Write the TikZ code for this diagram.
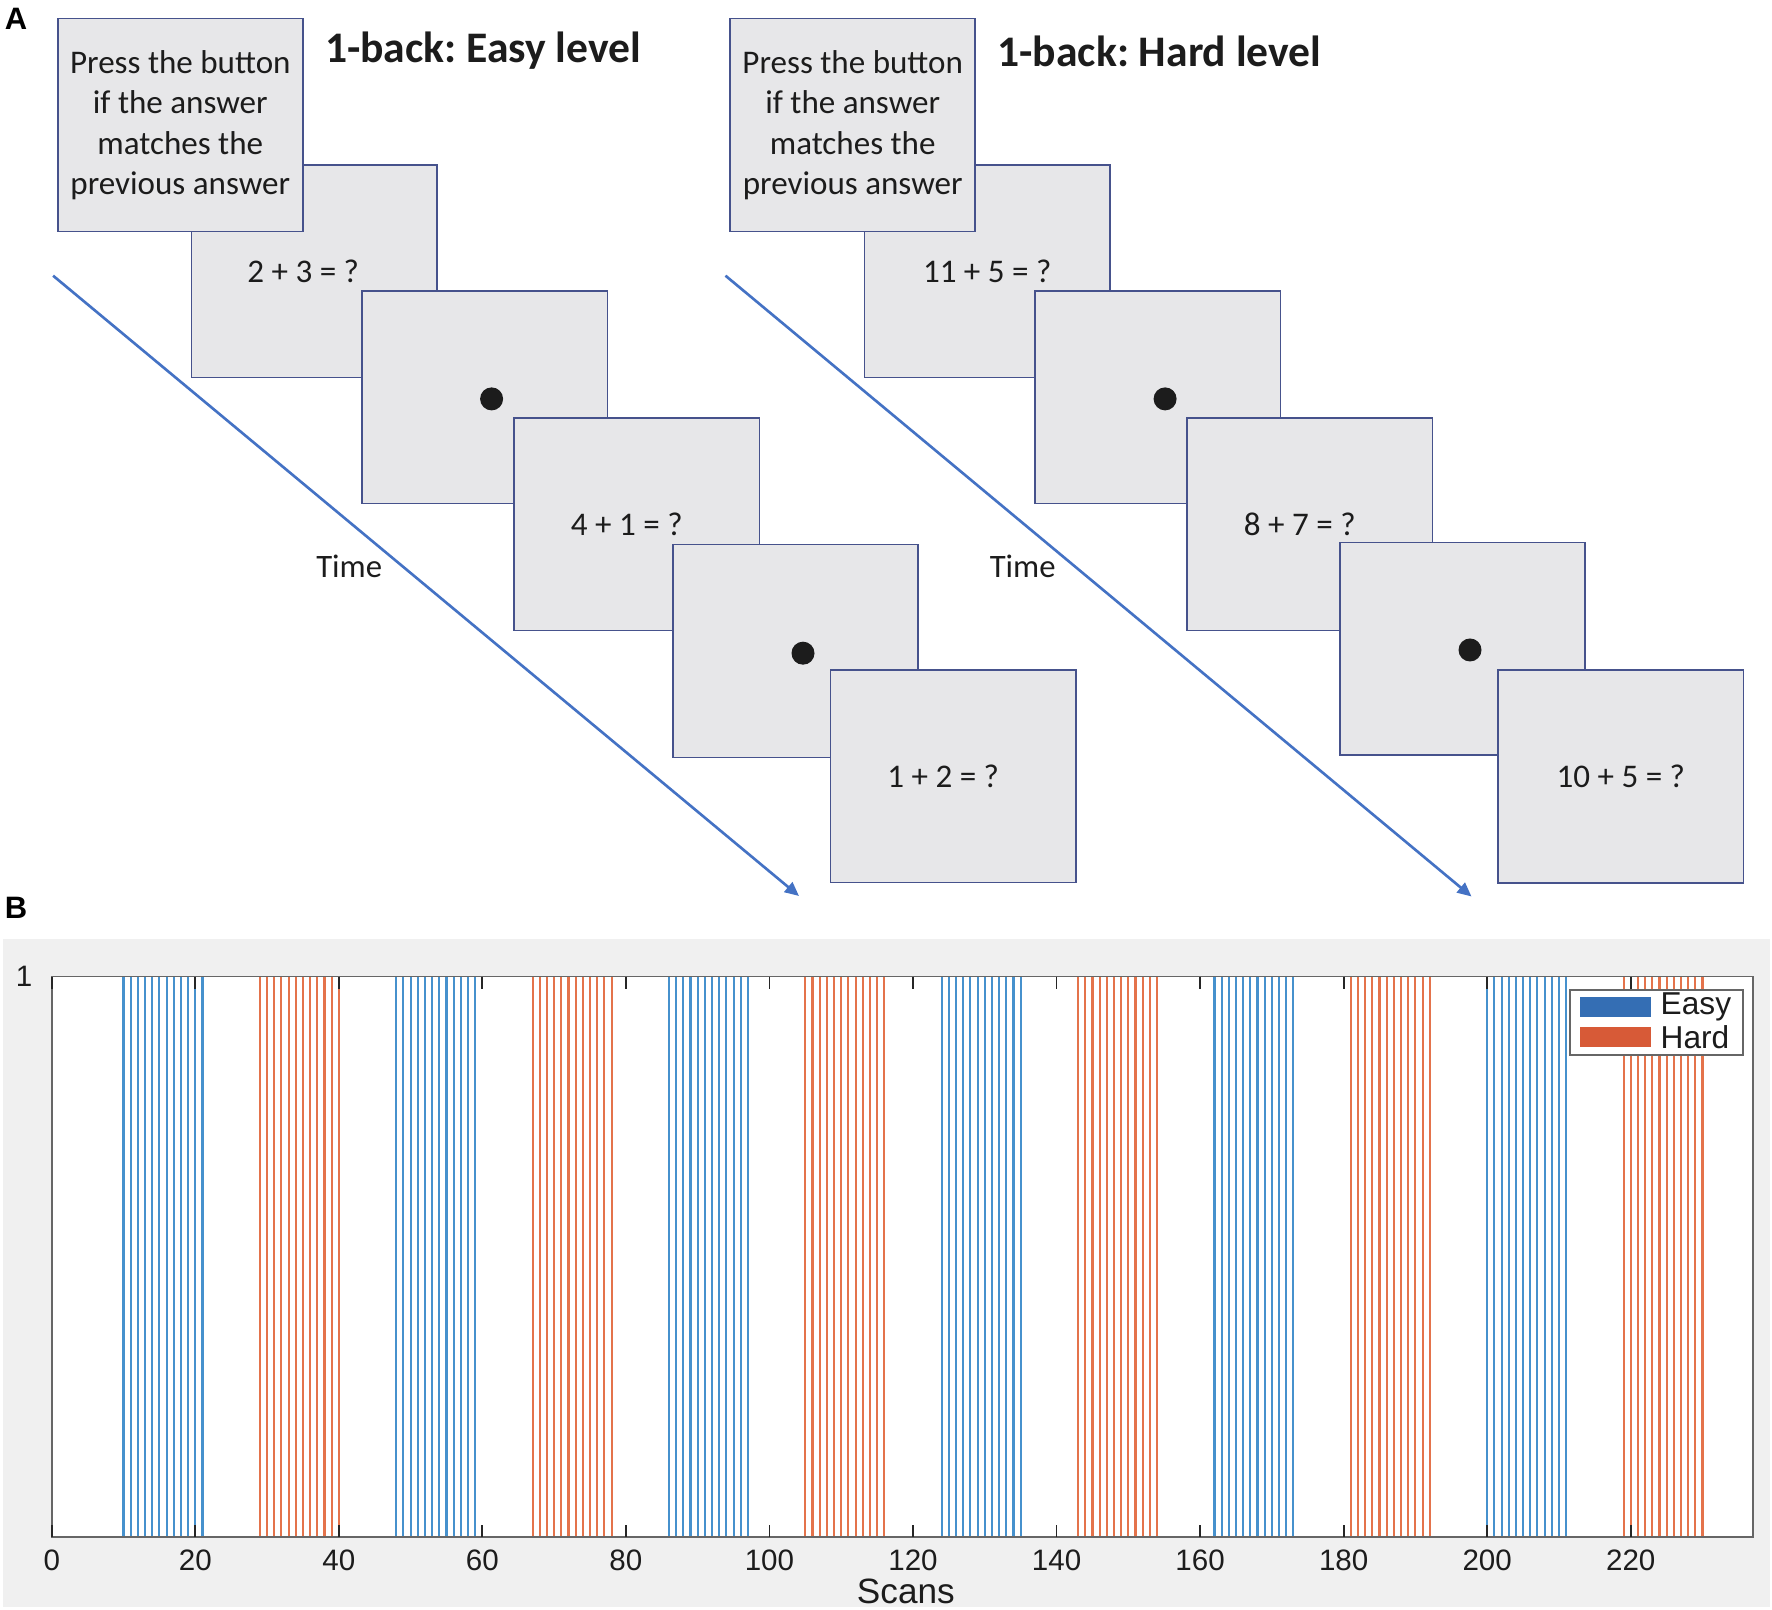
\documentclass[tikz,border=0pt]{standalone}
\usepackage{fontspec}
\setmainfont{Carlito}
\newfontfamily\plotfont{Liberation Sans}
\usetikzlibrary{arrows.meta}
\frenchspacing

\definecolor{stimfill}{RGB}{231,231,233}
\definecolor{stimedge}{RGB}{70,82,140}
\definecolor{timeblue}{RGB}{68,114,196}
\definecolor{txt}{RGB}{28,28,28}
\definecolor{figgray}{RGB}{240,240,240}
\definecolor{easy}{RGB}{52,110,180}
\definecolor{hard}{RGB}{215,90,55}
\definecolor{easyline}{RGB}{70,145,205}
\definecolor{hardline}{RGB}{228,115,75}

\tikzset{
	stim/.style={draw=stimedge, fill=stimfill, line width=0.45pt,
		minimum width=2.45cm, minimum height=2.125cm, inner sep=0pt,
		outer sep=0pt, text=txt, align=center,
		font=\fontsize{9.4}{11.5}\selectfont},
	fix/.style={circle, fill=txt, minimum size=0.23cm, inner sep=0pt},
	title/.style={anchor=west, inner sep=0pt, text=txt,
		font=\fontsize{12.4}{14}\selectfont\bfseries},
	timelab/.style={inner sep=0pt, text=txt, font=\fontsize{9.3}{11}\selectfont},
	timearrow/.style={timeblue, line width=0.75pt,
		-{Triangle[length=4pt, width=3.6pt]}},
	panel/.style={inner sep=0pt, text=black,
		font=\plotfont\fontsize{8.8}{10}\selectfont\bfseries},
	ticklab/.style={inner sep=0pt, text=txt, font=\plotfont\fontsize{8.4}{10}\selectfont},
	patch/.style={minimum width=0.71cm, minimum height=0.2cm, inner sep=0pt}
}

\begin{document}
\begin{tikzpicture}[x=0.01cm, y=-0.01cm]
	\useasboundingbox (0,0) rectangle (1772,1610);

	% panel labels
	\node[panel] (pa) at (16,19) {A};
	\node[panel] (pb) at (16,908) {B};

	% easy level
	\node[stim] (e1) at (314.2,271.3) {2 + 3 = ?\hspace*{0.22cm}};
	\node[stim] (e2) at (484.8,397.2) {};
	\node[stim] (e3) at (636.8,524.4) {4 + 1 = ?\hspace*{0.2cm}};
	\node[stim] (e4) at (795.6,651.0) {};
	\node[stim] (e5) at (953.2,776.4) {1 + 2 = ?\hspace*{0.2cm}};
	\node[stim] (ei) at (180.3,125.0) {Press the button\\if the answer\\matches the\\previous answer};
	\node[fix] (ed1) at (491.6,398.9) {};
	\node[fix] (ed2) at (803.0,653.2) {};
	\node[title] (et) at (324.3,51) {1-back: Easy level};

	\coordinate (es) at (53.1,275.7);
	\coordinate (ee) at (799.0,896.0);
	\draw[timearrow] (es) -- (ee);
	\node[timelab] (etime) at (349.2,566.2) {Time};

	% hard level
	\node[stim] (h1) at (987.2,271.3) {11 + 5 = ?};
	\node[stim] (h2) at (1157.8,397.2) {};
	\node[stim] (h3) at (1309.8,524.4) {8 + 7 = ?\hspace*{0.2cm}};
	\node[stim] (h4) at (1462.3,648.7) {};
	\node[stim] (h5) at (1620.8,776.5) {10 + 5 = ?};
	\node[stim] (hi) at (852.7,125.0) {Press the button\\if the answer\\matches the\\previous answer};
	\node[fix] (hd1) at (1165.1,398.9) {};
	\node[fix] (hd2) at (1470.0,650.0) {};
	\node[title] (ht) at (996.8,51) {1-back: Hard level};

	\coordinate (hs) at (725.5,275.7);
	\coordinate (he) at (1471.5,896.5);
	\draw[timearrow] (hs) -- (he);
	\node[timelab] (htime) at (1022.7,566.2) {Time};

	% scan design
	\fill[figgray] (3,939) rectangle (1770,1607);
	\fill[white] (51.7,976) rectangle (1751.6,1536);

	\begin{scope}[shift={(0.517cm,-15.36cm)}, x=0.071726cm, y=5.6cm]
		\foreach \s in {10,48,86,124,162,200}
			\foreach \k in {0,...,11}
				\draw[easyline, line width=0.6pt] (\s+\k,0) -- (\s+\k,1);
		\foreach \s in {29,67,105,143,181,219}
			\foreach \k in {0,...,11}
				\draw[hardline, line width=0.6pt] (\s+\k,0) -- (\s+\k,1);

		\draw[black!60, line width=0.5pt] (0,0) rectangle (237,1);
		\foreach \t in {0,20,...,220} {
			\draw[black!85, line width=0.5pt] (\t,0) -- (\t,0.0214);
			\draw[black!85, line width=0.5pt] (\t,1) -- (\t,0.9786);
			\node[ticklab] (tl\t) at (\t,-0.042) {\t};
		}
		\node[ticklab, anchor=east] (ty) at (-2.6,1) {1};
		\node[ticklab, font=\plotfont\fontsize{10}{12}\selectfont] (xl) at (119,-0.098) {Scans};
	\end{scope}

	% legend
	\node[draw=black!60, fill=white, line width=0.5pt, minimum width=1.73cm,
		minimum height=0.65cm, inner sep=0pt] (leg) at (1656.5,1022.5) {};
	\node[patch, fill=easy] (pe) at (1615.5,1007) {};
	\node[patch, fill=hard] (ph) at (1615.5,1037) {};
	\node[ticklab, anchor=west, font=\plotfont\fontsize{9}{10}\selectfont] (le) at (1660,1007) {Easy};
	\node[ticklab, anchor=west, font=\plotfont\fontsize{9}{10}\selectfont] (lh) at (1660,1037) {Hard};
\end{tikzpicture}
\end{document}
